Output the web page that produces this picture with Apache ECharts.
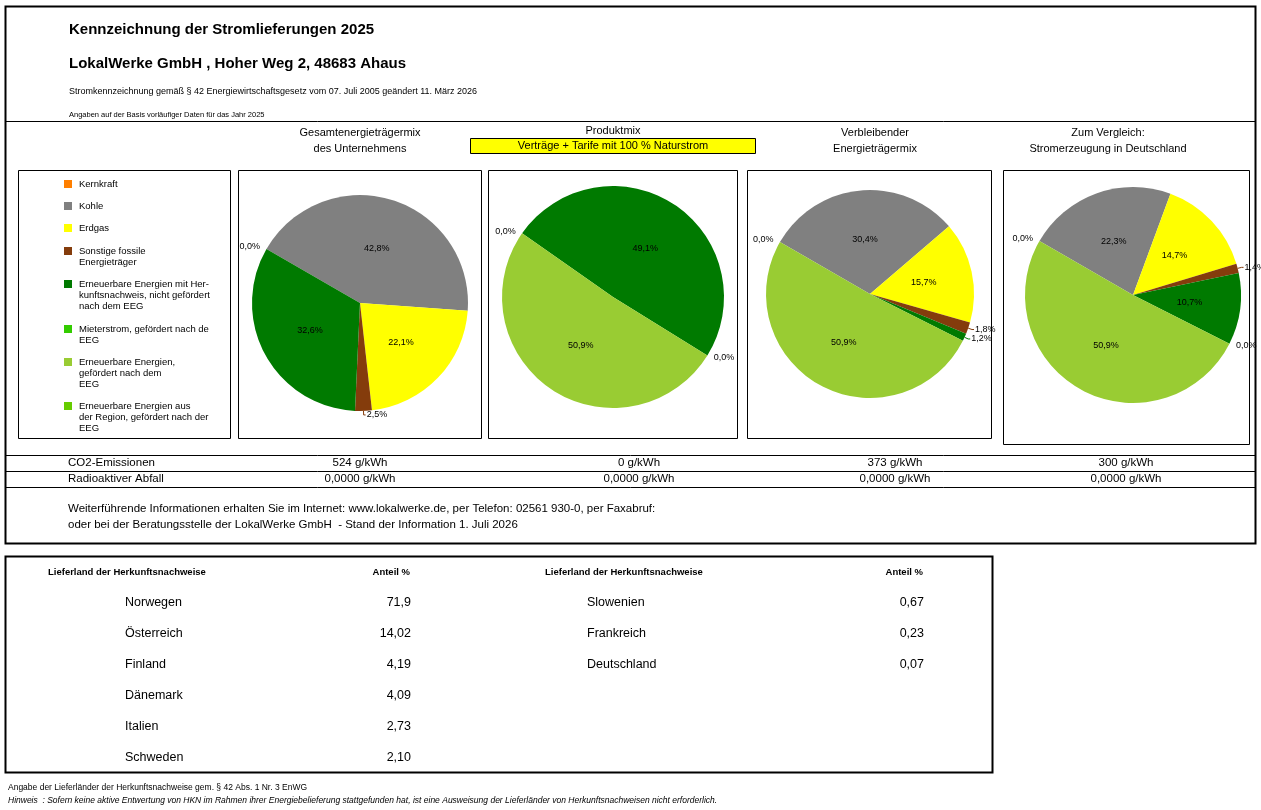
<!DOCTYPE html>
<html><head><meta charset="utf-8">
<script src="https://cdn.jsdelivr.net/npm/echarts@6/dist/echarts.min.js"></script>
<style>html,body{margin:0;background:#fff}#main{width:1261px;height:810px}</style>
</head><body><div id="main"></div>
<script>
// energy carriers, in pie order
var carriers = ['Kernkraft', 'Kohle', 'Erdgas', 'Sonstige fossile\nEnergieträger',
  'Erneuerbare Energien mit Her-\nkunftsnachweis, nicht gefördert\nnach dem EEG',
  'Mieterstrom, gefördert nach de\nEEG', 'Erneuerbare Energien,\ngefördert nach dem\nEEG',
  'Erneuerbare Energien aus\nder Region, gefördert nach der\nEEG'];
var colors = ['#FF7F00', '#808080', '#FFFF00', '#843C0C', '#007A00', '#33CC00', '#99CC33', '#66CC00'];
var mixUnternehmen = [0, 42.8, 22.1, 2.5, 32.6, 0, null, null];
var mixProdukt = [0, null, null, null, 49.1, 0, 50.9, null];
var mixVerbleibend = [0, 30.4, 15.7, 1.8, 1.2, 0, 50.9, null];
var mixDeutschland = [0, 22.3, 14.7, 1.4, 10.7, 0, 50.9, 0];
var co2 = ['524 g/kWh', '0 g/kWh', '373 g/kWh', '300 g/kWh'];
var abfall = ['0,0000 g/kWh', '0,0000 g/kWh', '0,0000 g/kWh', '0,0000 g/kWh'];
var laender1 = ['Norwegen', 'Österreich', 'Finland', 'Dänemark', 'Italien', 'Schweden'];
var anteil1 = ['71,9', '14,02', '4,19', '4,09', '2,73', '2,10'];
var laender2 = ['Slowenien', 'Frankreich', 'Deutschland'];
var anteil2 = ['0,67', '0,23', '0,07'];

var F = 'Liberation Sans, Arial, sans-serif';
var chart = echarts.init(document.getElementById('main'));
var g = [];
function txt(x, y, s, size, opt) {
  g.push(Object.assign({type: 'text', x: x, y: y, style: Object.assign({text: s, fontSize: size, fontFamily: F, fill: '#000'}, opt || {})}));
}
function box(x, y, w, h, lw) {
  g.push({type: 'rect', shape: {x: x, y: y, width: w, height: h}, style: {fill: 'none', stroke: '#000', lineWidth: lw || 1}});
}
function line(x1, y1, x2, y2) {
  g.push({type: 'line', shape: {x1: x1, y1: y1, x2: x2, y2: y2}, style: {stroke: '#000', lineWidth: 1}});
}
box(5.5, 6.5, 1250, 537, 2);
line(5, 121.5, 1256, 121.5);
line(5, 455.5, 1256, 455.5);
line(5, 471.5, 1256, 471.5);
line(5, 487.5, 1256, 487.5);
txt(69, 22, 'Kennzeichnung der Stromlieferungen 2025', 15, {fontWeight: 'bold'});
txt(69, 56, 'LokalWerke GmbH , Hoher Weg 2, 48683 Ahaus', 15, {fontWeight: 'bold'});
txt(69, 87, 'Stromkennzeichnung gemäß § 42 Energiewirtschaftsgesetz vom 07. Juli 2005 geändert 11. März 2026', 9);
txt(69, 111, 'Angaben auf der Basis vorläufiger Daten für das Jahr 2025', 7.5);
txt(360, 125, 'Gesamtenergieträgermix\ndes Unternehmens', 11, {align: 'center', lineHeight: 16});
txt(613, 125, 'Produktmix', 11, {align: 'center'});
g.push({type: 'rect', shape: {x: 470.5, y: 138.5, width: 285, height: 15}, style: {fill: '#FFFF00', stroke: '#000', lineWidth: 1}});
txt(613, 140, 'Verträge + Tarife mit 100 % Naturstrom', 11, {align: 'center'});
txt(875, 125, 'Verbleibender\nEnergieträgermix', 11, {align: 'center', lineHeight: 16});
txt(1108, 125, 'Zum Vergleich:\nStromerzeugung in Deutschland', 11, {align: 'center', lineHeight: 16});
box(18.5, 170.5, 212, 268);
box(238.5, 170.5, 243, 268);
box(488.5, 170.5, 249, 268);
box(747.5, 170.5, 244, 268);
box(1003.5, 170.5, 246, 274);
var legY = [179, 201, 223, 246, 279, 324, 357, 401];
carriers.forEach(function (c, i) {
  g.push({type: 'rect', shape: {x: 64, y: legY[i] + 1, width: 8, height: 8}, style: {fill: colors[i]}});
  txt(79, legY[i], c, 9.5, {lineHeight: 11});
});
var cx = [164, 613, 875, 1113];
txt(68, 457, 'CO2-Emissionen', 11.5);
txt(68, 473, 'Radioaktiver Abfall', 11.5);
co2.forEach(function (s, i) { txt([360, 639, 895, 1126][i], 457, s, 11.5, {align: 'center'}); });
abfall.forEach(function (s, i) { txt([360, 639, 895, 1126][i], 473, s, 11.5, {align: 'center'}); });
txt(68, 503, 'Weiterführende Informationen erhalten Sie im Internet: www.lokalwerke.de, per Telefon: 02561 930-0, per Faxabruf:', 11.5);
txt(68, 519, 'oder bei der Beratungsstelle der LokalWerke GmbH  - Stand der Information 1. Juli 2026', 11.5);
box(5.5, 556.5, 987, 216, 2);
txt(48, 567, 'Lieferland der Herkunftsnachweise', 9.5, {fontWeight: 'bold'});
txt(410, 567, 'Anteil %', 9.5, {fontWeight: 'bold', align: 'right'});
txt(545, 567, 'Lieferland der Herkunftsnachweise', 9.5, {fontWeight: 'bold'});
txt(923, 567, 'Anteil %', 9.5, {fontWeight: 'bold', align: 'right'});
laender1.forEach(function (l, i) {
  txt(125, 596 + i * 31, l, 12.5);
  txt(411, 596 + i * 31, anteil1[i], 12.5, {align: 'right'});
});
laender2.forEach(function (l, i) {
  txt(587, 596 + i * 31, l, 12.5);
  txt(924, 596 + i * 31, anteil2[i], 12.5, {align: 'right'});
});
txt(8, 783, 'Angabe der Lieferländer der Herkunftsnachweise gem. § 42 Abs. 1 Nr. 3 EnWG', 8.5);
txt(8, 796, 'Hinweis  : Sofern keine aktive Entwertung von HKN im Rahmen ihrer Energiebelieferung stattgefunden hat, ist eine Ausweisung der Lieferländer von Herkunftsnachweisen nicht erforderlich.', 8.5, {fontStyle: 'italic'});

function pie(vals, center, r, start) {
  var data = [];
  vals.forEach(function (v, i) {
    if (v === null) return;
    var small = v < 3;
    data.push({value: v, name: carriers[i], itemStyle: {color: colors[i]},
      label: {position: small ? 'outside' : 'inside'}, labelLine: {show: small && v > 0, length: 4, length2: 2}});
  });
  return {type: 'pie', center: center, radius: r, startAngle: start, clockwise: true,
    minShowLabelAngle: 0, avoidLabelOverlap: false, animation: false,
    label: {formatter: function (p) { return p.value.toFixed(1).replace('.', ',') + '%'; },
      fontSize: 9, fontFamily: F, color: '#000', distanceToLabelLine: 1},
    itemStyle: {borderWidth: 0}, data: data};
}
chart.setOption({
  animation: false,
  graphic: g,
  series: [
    pie(mixUnternehmen, [360, 303], 108, 150),
    pie(mixProdukt, [613, 297], 111, 145),
    pie(mixVerbleibend, [870, 294], 104, 150),
    pie(mixDeutschland, [1133, 295], 108, 150)
  ]
});
</script></body></html>
